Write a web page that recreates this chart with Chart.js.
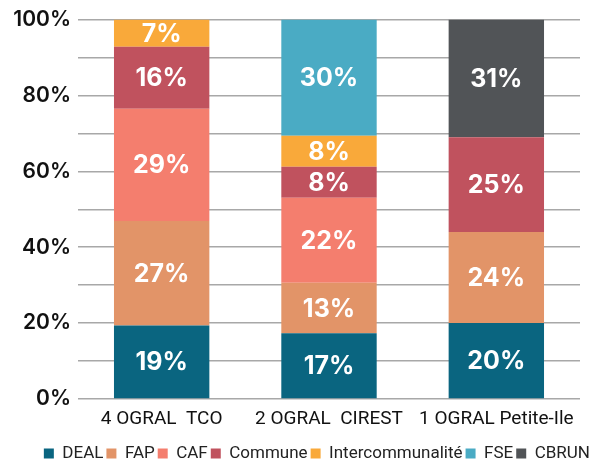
<!DOCTYPE html>
<html>
<head>
<meta charset="utf-8">
<script src="https://cdn.jsdelivr.net/npm/chart.js@4/dist/chart.umd.min.js"></script>
<style>
html,body{margin:0;padding:0;background:#fff;}
#wrap{width:597px;height:459px;}
</style>
</head>
<body>
<div id="wrap"><canvas id="chart"></canvas></div>
<script>
var categories = ['4 OGRAL  TCO', '2 OGRAL  CIREST', '1 OGRAL Petite-Ile']
var seriesNames = ['DEAL', 'FAP', 'CAF', 'Commune', 'Intercommunalité', 'FSE', 'CBRUN']
var colors = ['#0a6580', '#e29468', '#f47e6e', '#c0525e', '#f9a93a', '#4aabc4', '#515457']

// shown percentages per series, one value per category (0 = absent)
var deal = [19, 17, 20]
var fap = [27, 13, 24]
var caf = [29, 22, 0]
var commune = [16, 8, 25]
var interco = [7, 8, 0]
var fse = [0, 30, 0]
var cbrun = [0, 0, 31]
var yTicks = [0, 20, 40, 60, 80, 100]

var raw = [deal, fap, caf, commune, interco, fse, cbrun]
var totals = categories.map(function(c, i) {
	return raw.reduce(function(s, arr) { return s + arr[i] }, 0)
})

var datasets = raw.map(function(arr, k) {
	return {
		label: seriesNames[k],
		backgroundColor: colors[k],
		borderWidth: 0,
		raw: arr,
		data: arr.map(function(v, i) { return v ? v / totals[i] * 100 : null })
	}
})

var barLabels = {
	id: 'barLabels',
	afterDatasetsDraw: function(chart) {
		var ctx = chart.ctx
		ctx.save()
		ctx.fillStyle = '#ffffff'
		ctx.font = 'bold 25px Inter'
		ctx.textAlign = 'center'
		ctx.textBaseline = 'middle'
		chart.data.datasets.forEach(function(ds, k) {
			chart.getDatasetMeta(k).data.forEach(function(el, i) {
				var v = ds.raw[i]
				if (!v) return
				ctx.fillText(v + '%', el.x, (el.y + el.base) / 2 + 1)
			})
		})
		ctx.restore()
	}
}

var context = document.getElementById('chart').getContext('2d')
var chart = new Chart(context, {
	type: 'bar',
	data: { labels: categories, datasets: datasets },
	plugins: [barLabels],
	options: {
		responsive: true,
		maintainAspectRatio: false,
		animation: false,
		// negative bottom padding eats the legend's built-in 10px bottom gap
		layout: { padding: { top: 19, left: 4, right: 4, bottom: -13 } },
		datasets: { bar: { barPercentage: 0.57, categoryPercentage: 1 } },
		plugins: {
			tooltip: { enabled: false },
			legend: {
				position: 'bottom',
				align: 'end',
				labels: {
					color: '#222',
					font: { family: 'Roboto', size: 17, lineHeight: 1 },
					boxWidth: 10,
					boxHeight: 10,
					padding: 3
				}
			}
		},
		scales: {
			x: {
				stacked: true,
				grid: { display: false, drawTicks: false },
				border: { display: false },
				ticks: { color: '#111', padding: 9, font: { family: 'Roboto', size: 19 } },
				afterFit: function(s) { s.height = 43 }
			},
			y: {
				stacked: true,
				min: 0,
				max: 100,
				afterFit: function(s) { s.width = 74 },
				afterBuildTicks: function(s) {
					var t = []
					for (var v = 0; v <= 100; v += 10) t.push({ value: v })
					s.ticks = t
				},
				grid: { color: '#a8a8a8', lineWidth: 1.5, drawTicks: false },
				border: { display: false },
				ticks: {
					color: '#111',
					padding: 7,
					font: { family: 'Inter', size: 21, weight: '600' },
					callback: function(v) { return yTicks.indexOf(v) >= 0 ? v + '%' : '' }
				}
			},
			// empty right-hand axis, only reserves the white strip right of the plot
			yRight: {
				position: 'right',
				display: true,
				grid: { display: false },
				border: { display: false },
				ticks: { display: false },
				afterFit: function(s) { s.width = 13 }
			}
		}
	}
})
</script>
</body>
</html>
